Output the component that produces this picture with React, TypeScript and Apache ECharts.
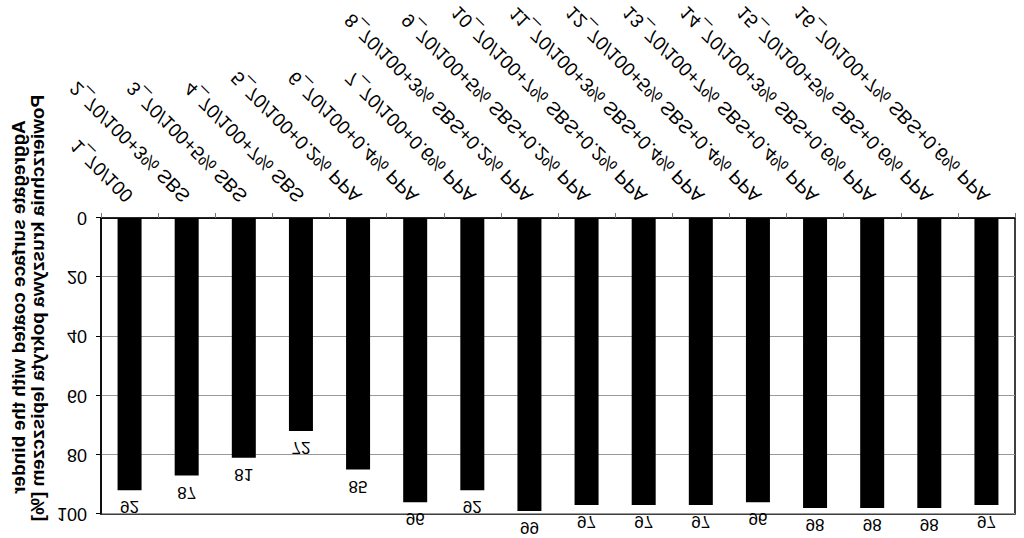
import React, { useEffect, useRef } from "react";
import * as echarts from "echarts";

const categories = [
  "1_70/100",
  "2_70/100+3% SBS",
  "3_70/100+5% SBS",
  "4_70/100+7% SBS",
  "5_70/100+0.2% PPA",
  "6_70/100+0.4% PPA",
  "7_70/100+0.6% PPA",
  "8_70/100+3% SBS+0.2% PPA",
  "9_70/100+5% SBS+0.2% PPA",
  "10_70/100+7% SBS+0.2% PPA",
  "11_70/100+3% SBS+0.4% PPA",
  "12_70/100+5% SBS+0.4% PPA",
  "13_70/100+7% SBS+0.4% PPA",
  "14_70/100+3% SBS+0.6% PPA",
  "15_70/100+5% SBS+0.6% PPA",
  "16_70/100+7% SBS+0.6% PPA",
];

const coatedValues = [92, 87, 81, 72, 85, 96, 92, 99, 97, 97, 97, 96, 98, 98, 98, 97];

const titleLineEn = "Aggregate surface coated with the binder";
const titleLinePl = "Powierzchnia kruszywa pokryta lepiszczem [%]";

const FONT = "'Liberation Sans', Arial, sans-serif";

export default function App() {
  const ref = useRef<HTMLDivElement>(null);

  useEffect(() => {
    document.body.style.margin = "0";
    const chart = echarts.init(ref.current!, null, { renderer: "svg" });
    chart.setOption({
      animation: false,
      backgroundColor: "#fff",
      textStyle: { fontFamily: FONT },
      grid: {
        left: 101,
        right: 9,
        top: 24,
        bottom: 218,
        show: true,
        borderColor: "#000",
        borderWidth: 1.5,
        containLabel: false,
      },
      xAxis: {
        type: "category",
        data: categories,
        axisLine: { show: true, lineStyle: { color: "#000", width: 1.5 } },
        axisTick: { show: true, length: 5, lineStyle: { color: "#777", width: 1 } },
        axisLabel: {
          interval: 0,
          rotate: 45,
          fontSize: 19,
          color: "#000",
          margin: 19,
          fontFamily: FONT,
        },
      },
      yAxis: {
        type: "value",
        min: 0,
        max: 100,
        interval: 20,
        axisLine: { show: true, lineStyle: { color: "#000", width: 1.5 } },
        axisTick: { show: true, length: 5, lineStyle: { color: "#000", width: 1 } },
        axisLabel: { fontSize: 18, color: "#000", margin: 14, fontFamily: FONT },
        splitLine: { show: true, lineStyle: { color: "#999", width: 1 } },
      },
      series: [
        {
          type: "bar",
          data: coatedValues,
          barWidth: 24,
          itemStyle: { color: "#000" },
          label: {
            show: true,
            position: "top",
            distance: 8,
            fontSize: 17,
            color: "#000",
            fontFamily: FONT,
          },
        },
      ],
      graphic: [
        {
          type: "text",
          x: 18,
          y: 231,
          rotation: Math.PI / 2,
          style: {
            text: titleLineEn,
            font: `bold 19px ${FONT}`,
            fill: "#000",
            align: "center",
            verticalAlign: "middle",
          },
        },
        {
          type: "text",
          x: 37,
          y: 230,
          rotation: Math.PI / 2,
          style: {
            text: titleLinePl,
            font: `bold 19px ${FONT}`,
            fill: "#000",
            align: "center",
            verticalAlign: "middle",
          },
        },
      ],
    });
    return () => chart.dispose();
  }, []);

  return (
    <div
      ref={ref}
      style={{
        position: "absolute",
        left: 0,
        top: 0,
        width: 1024,
        height: 538,
        transform: "scaleY(-1)",
      }}
    />
  );
}
